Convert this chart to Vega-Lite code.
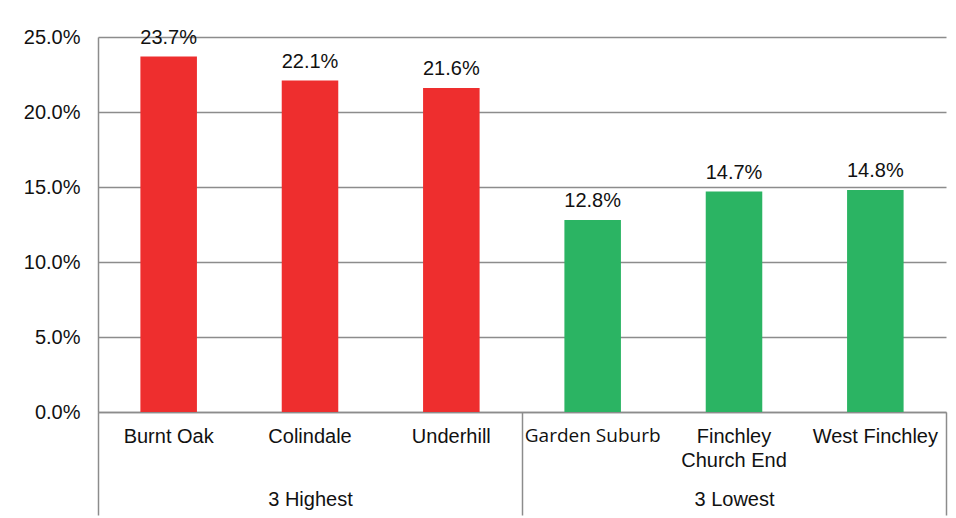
{
  "$schema": "https://vega.github.io/schema/vega-lite/v6.json",
  "width": 848,
  "height": 375,
  "autosize": "none",
  "padding": {"left": 98, "top": 37, "right": 10, "bottom": 106},
  "background": "white",
  "data": {"values": [
    {"ward": "Burnt Oak", "group": "3 Highest", "rate": 0.237},
    {"ward": "Colindale", "group": "3 Highest", "rate": 0.221},
    {"ward": "Underhill", "group": "3 Highest", "rate": 0.216},
    {"ward": "Garden Suburb", "group": "3 Lowest", "rate": 0.128},
    {"ward": "Finchley Church End", "group": "3 Lowest", "rate": 0.147},
    {"ward": "West Finchley", "group": "3 Lowest", "rate": 0.148}
  ]},
  "config": {
    "view": {"stroke": null},
    "font": "Liberation Sans",
    "axis": {"labelFont": "Liberation Sans", "labelFontSize": 20, "labelColor": "#111111"}
  },
  "layer": [
    {
      "encoding": {
        "x": {
          "field": "ward", "type": "nominal", "sort": null,
          "scale": {"paddingInner": 0.6, "paddingOuter": 0.3},
          "axis": {
            "title": null, "orient": "bottom", "ticks": false, "grid": false,
            "domain": true, "domainColor": "#8c8c8c", "domainWidth": 1.5,
            "labelAngle": 0, "labelPadding": 14, "labelLineHeight": 24,
            "labelExpr": "datum.label == 'Finchley Church End' ? ['Finchley', 'Church End'] : datum.label",
            "labelFont": {"condition": {"test": "datum.value == 'Garden Suburb'", "value": "Open Sans"}, "value": "Liberation Sans"},
            "labelFontSize": {"condition": {"test": "datum.value == 'Garden Suburb'", "value": 19}, "value": 20}
          }
        },
        "y": {
          "field": "rate", "type": "quantitative",
          "scale": {"domain": [0, 0.25], "nice": false},
          "axis": {
            "title": null, "format": ".1%", "values": [0, 0.05, 0.1, 0.15, 0.2, 0.25],
            "ticks": false, "labelPadding": 18,
            "domain": true, "domainColor": "#8c8c8c", "domainWidth": 1.5,
            "grid": true, "gridColor": "#8c8c8c", "gridWidth": 1.5
          }
        }
      },
      "layer": [
        {
          "mark": {"type": "bar"},
          "encoding": {
            "color": {
              "field": "group", "type": "nominal",
              "scale": {"domain": ["3 Highest", "3 Lowest"], "range": ["#EE2E2E", "#2BB463"]},
              "legend": null
            }
          }
        },
        {
          "mark": {"type": "text", "baseline": "alphabetic", "dy": -13, "fontSize": 20, "font": "Liberation Sans", "color": "#111111"},
          "encoding": {
            "text": {"field": "rate", "type": "quantitative", "format": ".1%"}
          }
        }
      ]
    },
    {
      "mark": {"type": "bar", "opacity": 0},
      "encoding": {
        "x": {
          "field": "group", "type": "nominal", "sort": null,
          "scale": {"paddingInner": 0, "paddingOuter": 0},
          "axis": {
            "title": null, "orient": "bottom", "domain": false, "grid": false,
            "ticks": true, "tickBand": "extent", "tickSize": 103,
            "tickColor": "#8c8c8c", "tickWidth": 1.5,
            "labelAngle": 0, "labelPadding": -26
          }
        },
        "y": {"field": "rate", "type": "quantitative", "aggregate": "max", "scale": {"domain": [0, 0.25], "nice": false}}
      }
    }
  ],
  "resolve": {"scale": {"x": "independent"}, "axis": {"x": "independent"}}
}
